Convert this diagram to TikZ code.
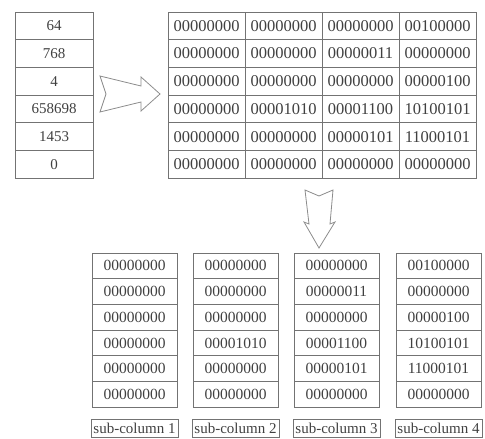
\documentclass[tikz,border=0pt]{standalone}
\usepackage{fontspec}
\setmainfont{Liberation Serif}
\tikzset{
  cell/.style={draw=black!55, line width=0.7pt, minimum width=77pt, minimum height=27.7pt,
    inner sep=0pt, text=black!75, font=\fontsize{16.5}{18}\selectfont},
  numcell/.style={cell, minimum width=78pt, font=\fontsize{15}{17}\selectfont},
  subcell/.style={cell, minimum width=85pt, minimum height=25.7pt, font=\fontsize{15.5}{17}\selectfont},
  sublabel/.style={draw=black!55, line width=0.6pt, minimum height=18pt, inner xsep=2.5pt,
    inner ysep=0pt, text=black!75, font=\fontsize{15}{17}\selectfont},
  blockarrow/.style={draw=black!45, line width=0.8pt, line join=miter}
}
\begin{document}
\begin{tikzpicture}[x=1pt,y=-1pt]
    \useasboundingbox (0,0) rectangle (485,439);

    % Decimal values
    \foreach \r/\val in {1/64, 2/768, 3/4, 4/658698, 5/1453, 6/0} {
        \node[numcell] (n\r) at (54,{-1.85+27.7*\r}) {\val};
    }

    % Bytes of each value, and the same bytes split into sub-columns
    \foreach \r/\a/\b/\c/\d in {
        1/00000000/00000000/00000000/00100000,
        2/00000000/00000000/00000011/00000000,
        3/00000000/00000000/00000000/00000100,
        4/00000000/00001010/00001100/10100101,
        5/00000000/00000000/00000101/11000101,
        6/00000000/00000000/00000000/00000000
    } {
        \node[cell] (b\r-1) at (206.5,{-1.85+27.7*\r}) {\a};
        \node[cell] (b\r-2) at (283.5,{-1.85+27.7*\r}) {\b};
        \node[cell] (b\r-3) at (360.5,{-1.85+27.7*\r}) {\c};
        \node[cell] (b\r-4) at (437.5,{-1.85+27.7*\r}) {\d};
        \node[subcell] (s\r-1) at (134.5,{240.15+25.7*\r}) {\a};
        \node[subcell] (s\r-2) at (235.5,{240.15+25.7*\r}) {\b};
        \node[subcell] (s\r-3) at (336.5,{240.15+25.7*\r}) {\c};
        \node[subcell] (s\r-4) at (438.5,{240.15+25.7*\r}) {\d};
    }

    % Sub-column labels
    \foreach \c/\x in {1/134.5, 2/235.5, 3/336.5, 4/438.5} {
        \node[sublabel] (l\c) at (\x,428) {sub-column \c};
    }

    % Block arrows
    \draw[blockarrow] (100,76) -- (141,86) -- (141,77) -- (160,94) -- (141,111)
        -- (141,102) -- (100,112) -- (106,94) -- cycle;
    \draw[blockarrow] (305,190) -- (319,196) -- (333,190) -- (330,224) -- (335,222)
        -- (319,248) -- (304,222) -- (309,224) -- cycle;
\end{tikzpicture}
\end{document}
